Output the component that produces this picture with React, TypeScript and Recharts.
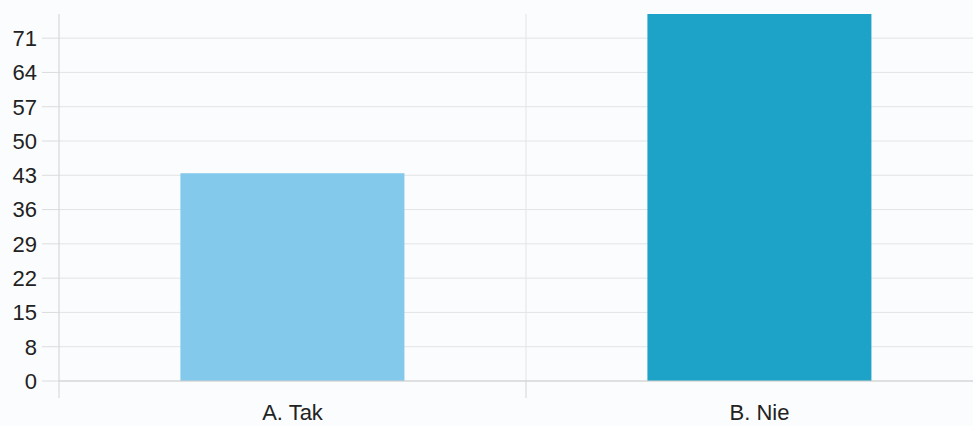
import { Bar, BarChart, CartesianGrid, Cell, XAxis, YAxis } from "recharts";

const categories = ["A. Tak", "B. Nie"];
const answers = [43, 76];
const barColors = ["#82c9ec", "#1ea3c8"];
const yTicks = [0, 7.1, 14.2, 21.3, 28.4, 35.5, 42.6, 49.7, 56.8, 63.9, 71];
const yTickLabels = ["0", "8", "15", "22", "29", "36", "43", "50", "57", "64", "71"];

const chartWidth = 1000;
const chartHeight = 426;
const margin = { top: 14, right: 7, left: 0, bottom: 0 } as const;
const yAxisWidth = 59;
const band = (chartWidth - margin.left - margin.right - yAxisWidth) / categories.length;

const data = categories.map((name, i) => ({ name, value: answers[i] }));

function CategoryTick(props: any) {
  const { x, payload } = props;
  const base = chartHeight - 45; // x axis baseline
  const left = x - band / 2;
  return (
    <g>
      {/* category boundary runs a little below the baseline */}
      <line x1={left} x2={left} y1={base} y2={base + 17} stroke="#d4d4d4" />
      <text x={x} y={base + 39} textAnchor="middle" fill="#222" fontSize={22}>
        {payload.value}
      </text>
    </g>
  );
}

export default function App() {
  return (
    <div
      style={{
        position: "fixed",
        left: 0,
        top: 0,
        width: 973,
        height: 426,
        overflow: "hidden",
        background: "#fbfcfd",
      }}
    >
      <BarChart
        width={chartWidth}
        height={chartHeight}
        data={data}
        margin={margin}
        barCategoryGap="26%"
        style={{ fontFamily: "'Liberation Sans', Arial, sans-serif" }}
      >
        <CartesianGrid
          stroke="#e2e4e6"
          horizontalValues={yTicks}
          verticalCoordinatesGenerator={({ offset }: any) => [offset.left + offset.width / 2]}
        />
        <XAxis
          dataKey="name"
          height={45}
          axisLine={{ stroke: "#cfcfcf" }}
          tickLine={false}
          interval={0}
          tick={<CategoryTick />}
        />
        <YAxis
          width={yAxisWidth}
          domain={[0, 76]}
          ticks={yTicks}
          interval={0}
          tickFormatter={(_v: number, i: number) => yTickLabels[i]}
          axisLine={{ stroke: "#d0d0d0" }}
          tickLine={{ stroke: "#dcdcdc" }}
          tickSize={17}
          tickMargin={5}
          tick={{ fill: "#222", fontSize: 22 }}
        />
        <Bar dataKey="value" isAnimationActive={false}>
          {data.map((d, i) => (
            <Cell key={d.name} fill={barColors[i]} />
          ))}
        </Bar>
      </BarChart>
    </div>
  );
}
